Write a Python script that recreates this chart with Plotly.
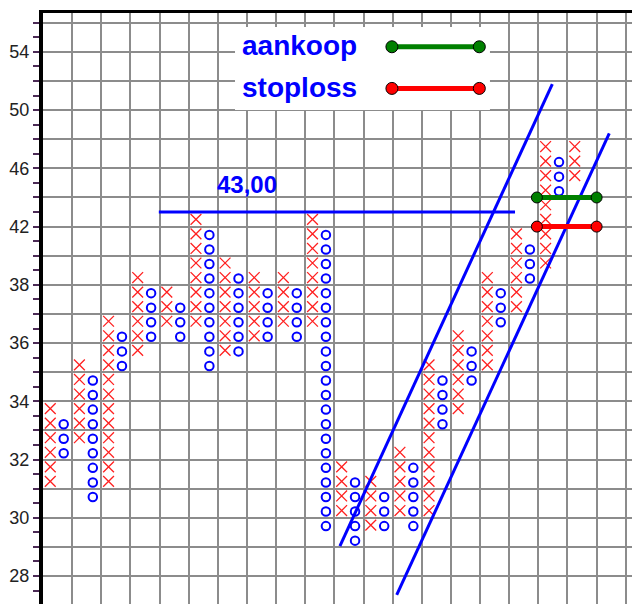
import plotly.graph_objects as go

# ---------------- data ----------------
# Point & figure columns: type, lowest box price, highest box price
col_types = ['X', 'O', 'X', 'O', 'X', 'O', 'X', 'O', 'X', 'O',
             'X', 'O', 'X', 'O', 'X', 'O', 'X', 'O', 'X', 'O',
             'X', 'O', 'X', 'O', 'X', 'O', 'X', 'O', 'X', 'O',
             'X', 'O', 'X', 'O', 'X', 'O', 'X']
col_low = [31, 32, 32.5, 30.5, 31, 35, 35.5, 36, 36.5, 36,
           36.5, 35, 35.5, 35.5, 36, 36, 36.5, 36, 36.5, 29.5,
           30, 29, 29.5, 29.5, 30, 29.5, 30, 33, 33.5, 34.5,
           35, 36.5, 37, 38, 39, 44, 45]
col_high = [33.5, 33, 35, 34.5, 36.5, 36, 38, 37.5, 37.5, 37,
            42, 41, 39, 38, 38, 37.5, 38, 37.5, 42, 41,
            31.5, 31, 31, 30.5, 32, 31.5, 35, 34.5, 36, 35.5,
            38, 37.5, 41, 40, 47, 46, 47]

# y tick labels (prices)
tick_label_prices = [28, 30, 32, 34, 36, 38, 42, 46, 50, 54]

# resistance level
resist_price = 43
resist_label = "43,00"
resist_cols = [7.45, 31.9]

# trend channel lines (column, row) endpoints
trend1_cols = [19.88, 34.46]
trend1_rows = [2.06, 33.79]
trend2_cols = [23.78, 38.37]
trend2_rows = [-1.30, 30.40]

# buy / stop levels
aankoop_price = 44
stoploss_price = 42
level_cols = [33.4, 37.5]

# legend
legend_names = ["aankoop", "stoploss"]
legend_colors = ["#008000", "#ff0000"]
legend_rows = [36.35, 33.49]
legend_cols = [23.45, 29.45]

# ---------------- helpers ----------------
def price_to_row(p):
    # box size 0.5 below 38, 1.0 from 38 upward
    return 2 * (p - 28) if p < 38 else 20 + (p - 38)


def boxes(lo, hi):
    out = []
    p = lo
    while p <= hi + 1e-9:
        out.append(p)
        p += 0.5 if p < 38 else 1.0
    return out


xs_x, xs_y, os_x, os_y = [], [], [], []
for i, (t, lo, hi) in enumerate(zip(col_types, col_low, col_high)):
    for p in boxes(lo, hi):
        r = price_to_row(p) + 0.5
        if t == 'X':
            xs_x.append(i)
            xs_y.append(r)
        else:
            os_x.append(i - 0.08)
            os_y.append(r - 0.07)

fig = go.Figure()

fig.add_trace(go.Scatter(
    x=xs_x, y=xs_y, mode="markers",
    marker=dict(symbol="x-thin", size=10.8, line=dict(color="#ff2020", width=1.3)),
    hoverinfo="skip"))
fig.add_trace(go.Scatter(
    x=os_x, y=os_y, mode="markers",
    marker=dict(symbol="circle-open", size=8.5, color="#0000ff",
                line=dict(color="#0000ff", width=2)),
    hoverinfo="skip"))

# resistance line
r43 = price_to_row(resist_price)
fig.add_trace(go.Scatter(x=resist_cols, y=[r43, r43], mode="lines",
                         line=dict(color="#0000ff", width=3), hoverinfo="skip"))
# trend lines
fig.add_trace(go.Scatter(x=trend1_cols, y=trend1_rows, mode="lines",
                         line=dict(color="#0000ff", width=3), hoverinfo="skip"))
fig.add_trace(go.Scatter(x=trend2_cols, y=trend2_rows, mode="lines",
                         line=dict(color="#0000ff", width=3), hoverinfo="skip"))

# aankoop / stoploss levels
for price, color in [(aankoop_price, legend_colors[0]), (stoploss_price, legend_colors[1])]:
    rr = price_to_row(price)
    fig.add_trace(go.Scatter(
        x=level_cols, y=[rr, rr], mode="lines+markers",
        line=dict(color=color, width=5),
        marker=dict(symbol="circle", size=11, color=color, line=dict(color="#000000", width=1)),
        hoverinfo="skip"))

# legend box (white, over the grid)
fig.add_shape(type="rect", xref="x", yref="y", x0=12.68, x1=30.18, y0=32.0, y1=37.7,
              fillcolor="white", line=dict(width=0), layer="between")

for name, color, rr in zip(legend_names, legend_colors, legend_rows):
    fig.add_trace(go.Scatter(
        x=legend_cols, y=[rr, rr], mode="lines+markers",
        line=dict(color=color, width=5),
        marker=dict(symbol="circle", size=12, color=color, line=dict(color="#000000", width=1)),
        hoverinfo="skip"))

fig.add_annotation(x=13.0, y=36.43, xref="x", yref="y", text=legend_names[0],
                   showarrow=False, xanchor="left", yanchor="middle",
                   font=dict(family="Liberation Sans", size=28, color="#0000ff", weight="bold"))
fig.add_annotation(x=13.0, y=33.55, xref="x", yref="y", text=legend_names[1],
                   showarrow=False, xanchor="left", yanchor="middle",
                   font=dict(family="Liberation Sans", size=28, color="#0000ff", weight="bold"))

fig.add_annotation(x=11.3, y=26.9, xref="x", yref="y", text=resist_label,
                   showarrow=False, xanchor="left", yanchor="middle",
                   font=dict(family="Liberation Sans", size=24, color="#0000ff", weight="bold"))

# axes
major_rows = list(range(0, 39, 2))
label_rows = {price_to_row(p): str(p) for p in tick_label_prices}
major_text = [label_rows.get(r, "") for r in major_rows]
minor_rows = list(range(-1, 39, 2))

fig.update_yaxes(
    range=[-1.92, 38.67], tickmode="array", tickvals=major_rows, ticktext=major_text,
    ticks="outside", ticklen=6, tickwidth=2, tickcolor="#4b2a55",
    showgrid=True, gridcolor="#8c8c8c", gridwidth=1.6, zeroline=False,
    showline=True, linecolor="black", linewidth=4, automargin=False,
    tickfont=dict(family="Liberation Sans", size=18, color="#222222"),
    minor=dict(tickmode="array", tickvals=minor_rows, ticks="outside", ticklen=6,
               tickwidth=2, tickcolor="#4b2a55", showgrid=False),
)
fig.update_xaxes(
    range=[-0.5, 39.93], side="top", tickmode="linear", tick0=-0.5, dtick=2,
    showticklabels=False, ticks="", showgrid=True, gridcolor="#8c8c8c", gridwidth=1.6,
    zeroline=False, showline=True, linecolor="black", linewidth=3, automargin=False,
)

fig.update_layout(
    width=632, height=604, autosize=False,
    margin=dict(l=43, r=0, t=13, b=0, pad=0, autoexpand=False),
    paper_bgcolor="white", plot_bgcolor="white",
    showlegend=False,
)

fig.write_html("out.html", config={"displayModeBar": False},
               post_script="document.body.style.margin='0';document.body.style.overflow='hidden';")
